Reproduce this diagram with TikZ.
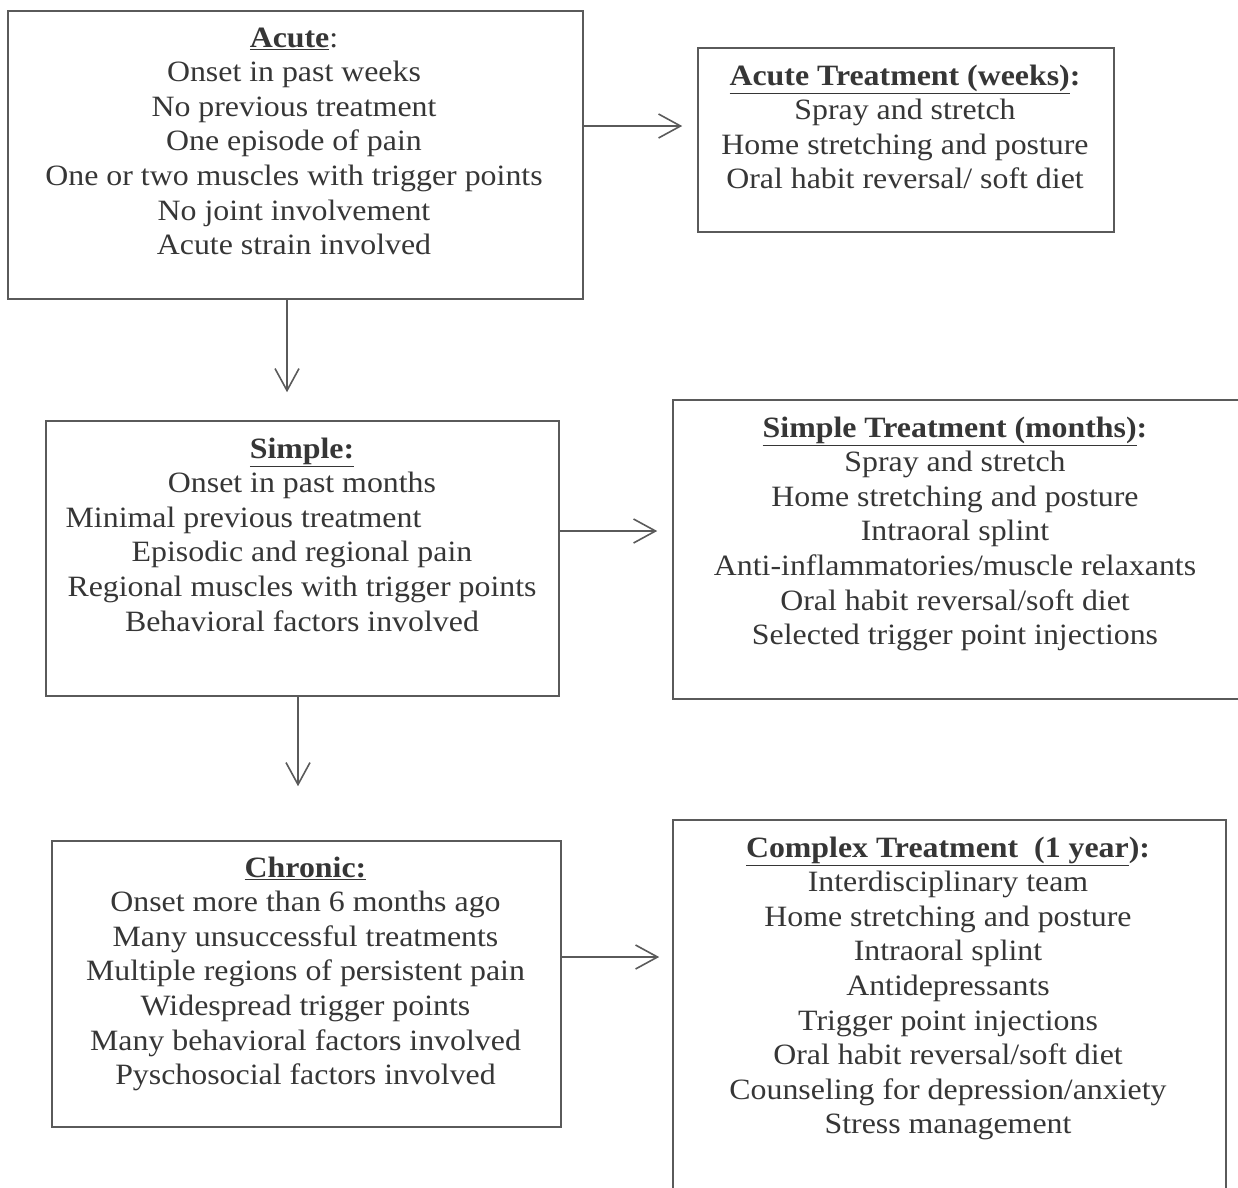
\documentclass[tikz,border=0pt]{standalone}
\usepackage{fontspec}
\setmainfont{Liberation Serif}[FakeStretch=1.08]
\usetikzlibrary{arrows.meta}
\definecolor{ink}{HTML}{363636}
\definecolor{frame}{HTML}{5A5A5A}
\tikzset{
  boxnode/.style={draw=frame, line width=1.6pt, rectangle, inner sep=0pt},
  txt/.style={anchor=north, inner sep=0pt, align=center, text=ink,
              font=\fontsize{29.5}{34.6}\selectfont},
  arr/.style={draw=frame, line width=1.6pt, -{Straight Barb[length=22pt,width=24pt,line width=1.6pt]}}
}
\begin{document}
\begin{tikzpicture}[x=1pt,y=-1pt]
\useasboundingbox (0,0) rectangle (1238,1187);
% boxes
\node[boxnode, minimum width=575pt, minimum height=288pt] (acute) at (295.5,155) {};
\node[boxnode, minimum width=416pt, minimum height=184pt] (acuteTx) at (906,140) {};
\node[boxnode, minimum width=513pt, minimum height=275pt] (simple) at (302.5,558.5) {};
\node[boxnode, minimum width=570pt, minimum height=299pt] (simpleTx) at (958,549.5) {};
\node[boxnode, minimum width=509pt, minimum height=286pt] (chronic) at (306.5,984) {};
\node[boxnode, minimum width=553pt, minimum height=390pt] (complexTx) at (949.5,1015) {};
% texts
\node[txt] (acuteT) at (294,22.7) {\strut\textbf{\underline{Acute}}:\\
  Onset in past weeks\\ No previous treatment\\ One episode of pain\\
  One or two muscles with trigger points\\ No joint involvement\\ Acute strain involved};
\node[txt] (acuteTxT) at (905,60.7) {\strut\textbf{\underline{Acute Treatment (weeks)}:}\\
  Spray and stretch\\ Home stretching and posture\\ Oral habit reversal/ soft diet};
\node[txt] (simpleT) at (302,433.7) {\strut\textbf{\underline{Simple:}}\\
  Onset in past months\\ Minimal previous treatment\hspace*{117pt}\mbox{}\\ Episodic and regional pain\\
  Regional muscles with trigger points\\ Behavioral factors involved};
\node[txt] (simpleTxT) at (955,412.7) {\strut\textbf{\underline{Simple Treatment (months)}:}\\
  Spray and stretch\\ Home stretching and posture\\ Intraoral splint\\
  Anti-inflammatories/muscle relaxants\\ Oral habit reversal/soft diet\\ Selected trigger point injections};
\node[txt] (chronicT) at (305.5,852.7) {\strut\textbf{\underline{Chronic:}}\\
  Onset more than 6 months ago\\ Many unsuccessful treatments\\ Multiple regions of persistent pain\\
  Widespread trigger points\\ Many behavioral factors involved\\ Pyschosocial factors involved};
\node[txt] (complexTxT) at (948,832.7) {\strut\textbf{\underline{Complex Treatment\ \ (1 year}):}\\
  Interdisciplinary team\\ Home stretching and posture\\ Intraoral splint\\ Antidepressants\\
  Trigger point injections\\ Oral habit reversal/soft diet\\ Counseling for depression/anxiety\\ Stress management};
% arrow guides
\coordinate (y1) at (0,126);
\coordinate (x2) at (287,0);
\coordinate (y3) at (0,531);
\coordinate (x4) at (298,0);
\coordinate (y5) at (0,957);
% connectors
\draw[arr, shorten >=15pt] (acute.east |- y1) -- (acuteTx.west |- y1);
\draw[arr, shorten >=28pt] (acute.south -| x2) -- (simple.north -| x2);
\draw[arr, shorten >=15pt] (simple.east |- y3) -- (simpleTx.west |- y3);
\draw[arr, shorten >=54pt] (simple.south -| x4) -- (chronic.north -| x4);
\draw[arr, shorten >=13pt] (chronic.east |- y5) -- (complexTx.west |- y5);
\end{tikzpicture}
\end{document}
